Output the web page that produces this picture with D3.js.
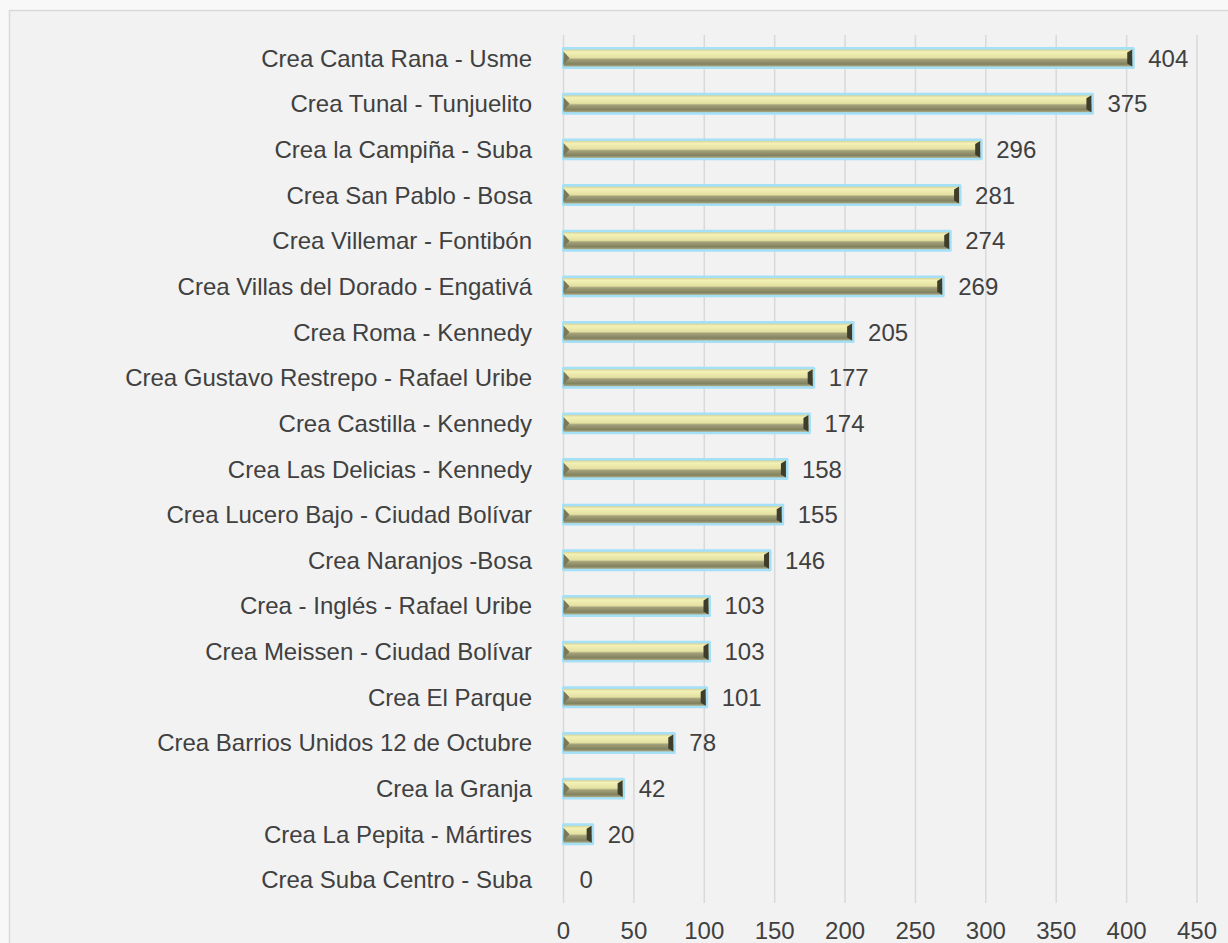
<!DOCTYPE html>
<html>
<head>
<meta charset="utf-8">
<script src="https://cdn.jsdelivr.net/npm/d3@7"></script>
<style>
  body { margin: 0; background: #f8f8f8; }
  svg { display: block; }
</style>
</head>
<body>
<script>
var width = 1228,
    height = 943;

var categories = [
  "Crea Canta Rana - Usme",
  "Crea Tunal - Tunjuelito",
  "Crea la Campiña - Suba",
  "Crea San Pablo - Bosa",
  "Crea Villemar - Fontibón",
  "Crea Villas del Dorado - Engativá",
  "Crea Roma - Kennedy",
  "Crea Gustavo Restrepo - Rafael Uribe",
  "Crea Castilla - Kennedy",
  "Crea Las Delicias - Kennedy",
  "Crea Lucero Bajo - Ciudad Bolívar",
  "Crea Naranjos -Bosa",
  "Crea - Inglés - Rafael Uribe",
  "Crea Meissen - Ciudad Bolívar",
  "Crea El Parque",
  "Crea Barrios Unidos 12 de Octubre",
  "Crea la Granja",
  "Crea La Pepita - Mártires",
  "Crea Suba Centro - Suba"
];

var values = [404, 375, 296, 281, 274, 269, 205, 177, 174, 158, 155, 146, 103, 103, 101, 78, 42, 20, 0];

var ticks = [0, 50, 100, 150, 200, 250, 300, 350, 400, 450];

var svg = d3.select("body").append("svg")
    .attr("width", width)
    .attr("height", height);

// gradient for the bevelled bars
var defs = svg.append("defs");
var grad = defs.append("linearGradient")
    .attr("id", "barGrad")
    .attr("x1", 0).attr("y1", 0).attr("x2", 0).attr("y2", 1);
grad.append("stop").attr("offset", "0%").attr("stop-color", "#d6d398");
grad.append("stop").attr("offset", "14%").attr("stop-color", "#f3f1b6");
grad.append("stop").attr("offset", "48%").attr("stop-color", "#e4e0a2");
grad.append("stop").attr("offset", "58%").attr("stop-color", "#a3a17a");
grad.append("stop").attr("offset", "86%").attr("stop-color", "#82815f");
grad.append("stop").attr("offset", "100%").attr("stop-color", "#aeac86");

var blur = defs.append("filter").attr("id", "glow")
    .attr("x", "-10%").attr("y", "-50%").attr("width", "120%").attr("height", "200%");
blur.append("feGaussianBlur").attr("stdDeviation", 0.7);

// chart frame
svg.append("rect")
    .attr("x", 9.5).attr("y", 10.5)
    .attr("width", width).attr("height", height)
    .attr("fill", "#f2f2f2")
    .attr("stroke", "#d9d9d9")
    .attr("stroke-width", 1.5);

var x = d3.scaleLinear()
    .domain([0, 450])
    .range([563.5, 1197]);

var y = d3.scaleBand()
    .domain(categories)
    .range([35, 903])
    .paddingInner(0.63)
    .paddingOuter(0.32);

// gridlines
svg.append("g")
  .selectAll("line")
  .data(ticks)
  .enter().append("line")
    .attr("x1", function(d){ return x(d); })
    .attr("x2", function(d){ return x(d); })
    .attr("y1", 35)
    .attr("y2", 903)
    .attr("stroke", "#d9d9d9")
    .attr("stroke-width", 1.5);

// tick labels
svg.append("g")
  .selectAll("text")
  .data(ticks)
  .enter().append("text")
    .attr("x", function(d){ return x(d); })
    .attr("y", 939)
    .attr("text-anchor", "middle")
    .attr("font-family", "'Liberation Sans Narrow', 'Arial Narrow', 'Liberation Sans', sans-serif")
    .attr("font-size", 24)
    .attr("fill", "#404040")
    .text(function(d){ return d; });

// category labels
svg.append("g")
  .selectAll("text")
  .data(categories)
  .enter().append("text")
    .attr("x", 532)
    .attr("y", function(d){ return y(d) + y.bandwidth()/2 + 8.5; })
    .attr("text-anchor", "end")
    .attr("font-family", "'Liberation Sans', Arial, sans-serif")
    .attr("font-size", 24)
    .attr("fill", "#404040")
    .text(function(d){ return d; });

var data = categories.map(function(c, i){ return {name: c, value: values[i]}; });

var bars = svg.append("g")
  .selectAll("g")
  .data(data.filter(function(d){ return d.value > 0; }))
  .enter().append("g");

// blue glow
bars.append("rect")
    .attr("x", x(0) - 1.5)
    .attr("y", function(d){ return y(d.name) - 2.5; })
    .attr("width", function(d){ return x(d.value) - x(0) + 4; })
    .attr("height", y.bandwidth() + 5)
    .attr("rx", 1.5)
    .attr("fill", "#a4e0f8")
    .attr("filter", "url(#glow)");

bars.append("rect")
    .attr("x", x(0))
    .attr("y", function(d){ return y(d.name); })
    .attr("width", function(d){ return x(d.value) - x(0); })
    .attr("height", y.bandwidth())
    .attr("fill", "url(#barGrad)");

// left bevel
bars.append("path")
    .attr("d", function(d){
      var x0 = x(0), y0 = y(d.name), h = y.bandwidth();
      return "M" + x0 + "," + (y0 + 2) + " L" + (x0 + 6) + "," + (y0 + h/2) + " L" + x0 + "," + (y0 + h - 2) + "Z";
    })
    .attr("fill", "#7a7858");

// right bevel
bars.append("path")
    .attr("d", function(d){
      var x1 = x(d.value), y0 = y(d.name), h = y.bandwidth();
      return "M" + x1 + "," + y0 + " L" + x1 + "," + (y0 + h) + " L" + (x1 - 5) + "," + (y0 + h - 3) + " L" + (x1 - 5) + "," + (y0 + 3) + "Z";
    })
    .attr("fill", "#3e3d2b");

// value labels
svg.append("g")
  .selectAll("text")
  .data(data)
  .enter().append("text")
    .attr("x", function(d){ return x(d.value) + 16; })
    .attr("y", function(d){ return y(d.name) + y.bandwidth()/2 + 8.5; })
    .attr("font-family", "'Liberation Sans', Arial, sans-serif")
    .attr("font-size", 24)
    .attr("fill", "#404040")
    .text(function(d){ return d.value; });
</script>
</body>
</html>
